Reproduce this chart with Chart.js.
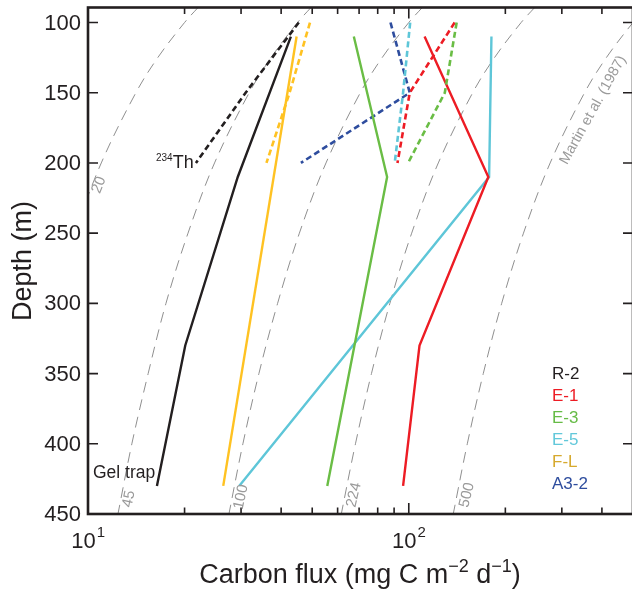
<!DOCTYPE html>
<html>
<head>
<meta charset="utf-8">
<script src="https://cdn.jsdelivr.net/npm/chart.js@4.4.0/dist/chart.umd.min.js"></script>
<style>
  body { margin: 0; overflow: hidden; background: #fff; }
</style>
</head>
<body>
<canvas id="fluxChart" width="640" height="589"></canvas>
<script>
  // sediment trap flux (mg C m-2 d-1) against depth (m)
  var r2Depths = [110, 210, 330, 430];
  var r2Flux = [42.9, 29.3, 20.1, 16.4];
  var e1Depths = [110, 210, 330, 430];
  var e1Flux = [112, 177, 108, 96];
  var e3Depths = [110, 210, 430];
  var e3Flux = [67.4, 85.6, 55.7];
  var e5Depths = [110, 210, 430];
  var e5Flux = [181, 178, 29.6];
  var flDepths = [110, 430];
  var flFlux = [44.7, 26.4];

  // 234Th derived flux, dashed
  var thDepths = [100, 150, 200];
  var r2Th = [45.4, 31.0, 21.7];
  var e1Th = [139, 100.7, 92.2];
  var e3Th = [141, 129.5, 99.5];
  var e5Th = [101, 96, 90.4];
  var flTh = [49.2, 42.5, 36.0];
  var a32Th = [87.7, 100.7, 46.1];

  // Martin et al. (1987) reference curves
  var martinDepths = [89, 100, 125, 150, 200, 250, 300, 350, 400, 450];
  var martin20 = [22.1, 20.0, 16.5, 14.1, 11.0, 9.1, 7.8, 6.8, 6.1, 5.5];
  var martin45 = [49.7, 45.0, 37.2, 31.8, 24.8, 20.5, 17.5, 15.4, 13.7, 12.4];
  var martin100 = [110.5, 100, 82.6, 70.6, 55.2, 45.6, 39.0, 34.1, 30.4, 27.5];
  var martin224 = [247.6, 224, 185.0, 158.2, 123.6, 102.1, 87.3, 76.5, 68.2, 61.6];
  var martin500 = [552.6, 500, 412.9, 353.1, 275.9, 227.8, 194.8, 170.7, 152.2, 137.6];

  var xTicks = [10, 20, 30, 40, 50, 60, 70, 80, 90, 100, 200, 300, 400, 500];
  var xMajor = [10, 100];
  var yTicks = [100, 150, 200, 250, 300, 350, 400, 450];

  var legendNames = ["R-2", "E-1", "E-3", "E-5", "F-L", "A3-2"];
  var legendColors = ["#231f20", "#ed1c24", "#66bb46", "#62c8da", "#d6a92e", "#2e4d9e"];

  var ink = "#231f20";
  var red = "#ed1c24", green = "#6abd45", cyan = "#5ec6d8", yellow = "#ffc222", blue = "#2e4d9e";
  var gray = "#8f8f8f";
  var fam = '"Liberation Sans", Arial, sans-serif';

  function pts(depths, flux) {
    return depths.map(function (d, i) { return { x: flux[i], y: d }; });
  }
  function solid(depths, flux, color) {
    return { data: pts(depths, flux), borderColor: color, borderWidth: 2.4, pointRadius: 0, tension: 0, order: 1 };
  }
  function dashed(depths, flux, color) {
    return { data: pts(depths, flux), borderColor: color, borderWidth: 2.6, borderDash: [6, 3.5], pointRadius: 0, tension: 0, order: 1 };
  }
  function martin(flux) {
    return { data: pts(martinDepths, flux), borderColor: gray, borderWidth: 1, borderDash: [11, 7], pointRadius: 0, tension: 0.35, order: 5 };
  }

  function drawParts(ctx, parts, x, y, align) {
    var w = 0;
    parts.forEach(function (p) { ctx.font = p[2] + "px " + fam; w += ctx.measureText(p[0]).width; });
    var cx = align === "center" ? x - w / 2 : x;
    ctx.textAlign = "left";
    ctx.textBaseline = "alphabetic";
    parts.forEach(function (p) {
      ctx.font = p[2] + "px " + fam;
      ctx.fillText(p[0], cx, y - p[1]);
      cx += ctx.measureText(p[0]).width;
    });
  }

  function rotText(ctx, text, x, y, deg) {
    ctx.save();
    ctx.translate(x, y);
    ctx.rotate(deg * Math.PI / 180);
    ctx.textAlign = "center";
    ctx.textBaseline = "middle";
    ctx.fillText(text, 0, 0);
    ctx.restore();
  }

  var frameAndLabels = {
    id: "frameAndLabels",
    afterDraw: function (chart) {
      var ctx = chart.ctx, a = chart.chartArea;
      var xs = chart.scales.x, ys = chart.scales.y;
      ctx.save();
      ctx.strokeStyle = ink;
      ctx.fillStyle = ink;
      ctx.lineWidth = 1.6;
      xTicks.forEach(function (v) {
        var px = xs.getPixelForValue(v);
        var len = xMajor.indexOf(v) >= 0 ? 11 : 6.5;
        ctx.beginPath();
        ctx.moveTo(px, a.bottom); ctx.lineTo(px, a.bottom - len);
        ctx.moveTo(px, a.top); ctx.lineTo(px, a.top + len);
        ctx.stroke();
      });
      yTicks.forEach(function (v) {
        var py = ys.getPixelForValue(v);
        ctx.beginPath();
        ctx.moveTo(a.left, py); ctx.lineTo(a.left + 10, py);
        ctx.moveTo(a.right, py); ctx.lineTo(a.right - 10, py);
        ctx.stroke();
      });
      ctx.lineWidth = 2.6;
      ctx.strokeRect(a.left, a.top, a.right - a.left, a.bottom - a.top);

      // y tick labels
      ctx.font = "22px " + fam;
      ctx.textAlign = "right";
      ctx.textBaseline = "middle";
      yTicks.forEach(function (v) {
        ctx.fillText(String(v), a.left - 7, ys.getPixelForValue(v) + 1);
      });
      // x tick labels
      xMajor.forEach(function (v, i) {
        var px = xs.getPixelForValue(v);
        ctx.font = "22px " + fam;
        ctx.textAlign = "center";
        ctx.textBaseline = "alphabetic";
        ctx.fillText("10", px - 4.5, 548);
        var w = ctx.measureText("10").width;
        ctx.font = "15px " + fam;
        ctx.textAlign = "left";
        ctx.fillText(String(i + 1), px - 4.5 + w / 2 + 1, 537);
      });

      // axis titles
      drawParts(ctx, [["Carbon flux (mg C m", 0, 27], ["\u22122", 11, 18], [" d", 0, 27], ["\u22121", 11, 18], [")", 0, 27]], 360, 583, "center");
      ctx.font = "27px " + fam;
      rotText(ctx, "Depth (m)", 24, 261, -90);

      // annotations
      ctx.font = "17.5px " + fam;
      ctx.textAlign = "left";
      ctx.textBaseline = "middle";
      ctx.fillText("Gel trap", 93, 473);
      drawParts(ctx, [["234", 7, 10], ["Th", 0, 18]], 156, 168, "left");

      // legend
      ctx.font = "17px " + fam;
      ctx.textAlign = "left";
      ctx.textBaseline = "middle";
      legendNames.forEach(function (n, i) {
        ctx.fillStyle = legendColors[i];
        ctx.fillText(n, 552, 374 + i * 22);
      });

      // Martin curve labels
      ctx.fillStyle = "#9a9a9a";
      ctx.font = "15px " + fam;
      rotText(ctx, "20", 99, 185, -68);
      rotText(ctx, "45", 129, 499, -78);
      rotText(ctx, "100", 241, 497, -78);
      rotText(ctx, "224", 354, 495, -77);
      rotText(ctx, "500", 467, 495, -76);
      ctx.font = "14.5px " + fam;
      rotText(ctx, "Martin et al. (1987)", 593, 110, -61);
      ctx.restore();
    }
  };

  var ctx = document.getElementById("fluxChart").getContext("2d");
  var fluxChart = new Chart(ctx, {
    type: "line",
    data: {
      datasets: [
        martin(martin20), martin(martin45), martin(martin100), martin(martin224), martin(martin500),
        solid(r2Depths, r2Flux, ink),
        dashed(thDepths, r2Th, ink),
        solid(flDepths, flFlux, yellow),
        dashed(thDepths, flTh, yellow),
        solid(e3Depths, e3Flux, green),
        dashed(thDepths, e3Th, green),
        solid(e1Depths, e1Flux, red),
        dashed(thDepths, e1Th, red),
        solid(e5Depths, e5Flux, cyan),
        dashed(thDepths, e5Th, cyan),
        dashed(thDepths, a32Th, blue),
      ],
    },
    options: {
      responsive: false,
      animation: false,
      layout: { padding: { left: 88, top: 7.5, right: 7, bottom: 75 } },
      scales: {
        x: { type: "logarithmic", min: 10, max: 500, display: false },
        y: { type: "linear", reverse: true, min: 89.3, max: 450, display: false },
      },
      plugins: {
        legend: { display: false },
        tooltip: { enabled: false },
      },
    },
    plugins: [frameAndLabels],
  });
</script>
</body>
</html>
